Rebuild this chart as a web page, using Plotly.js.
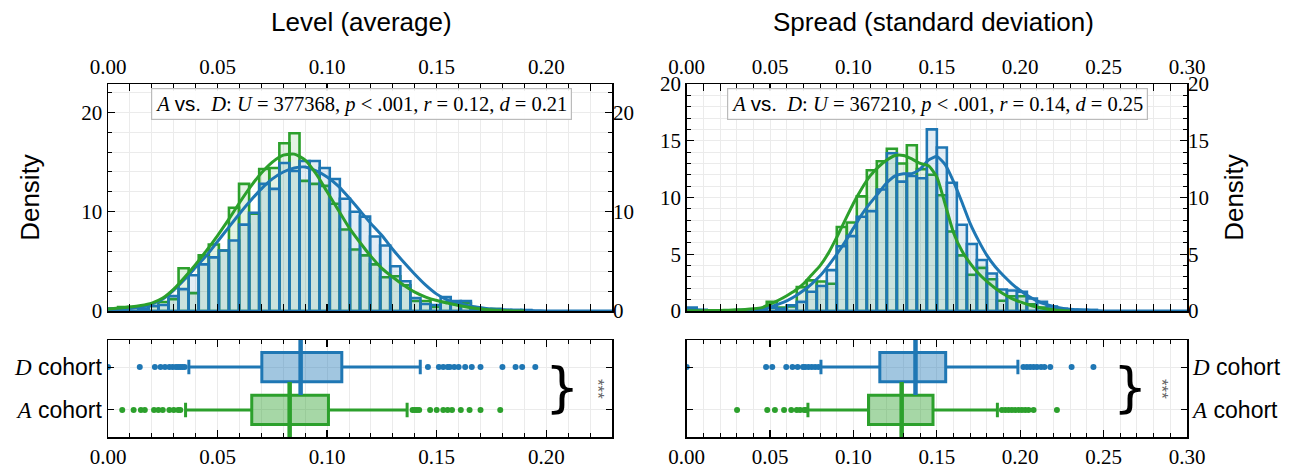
<!DOCTYPE html>
<html>
<head>
<meta charset="utf-8">
<script src="https://cdn.plot.ly/plotly-3.0.1.min.js"></script>
<style>html,body{margin:0;padding:0;background:#fff;}#chart{width:1303px;height:469px;}</style>
</head>
<body>
<div id="chart"></div>
<script>
// ---------------- DATA ----------------
// Level (average) histograms: common bins starting at 0
const levelBinStart = 0;
const levelBinWidth = 0.0046;
const levelHistD = [0.25,0,0,0.25,0.5,0.6,1.5,2.2,3.6,4.7,5.4,6.1,7.1,8.7,9.9,12.8,12.3,14.9,14.1,15.1,15.1,14.4,13.3,11.3,10.0,9.5,7.5,6.6,4.5,3.0,1.3,0.7,0.6,1.4,1.0,1.0,0.1,0.1,0.2,0.1,0.1,0.1];
const levelHistA = [0.2,0.4,0.4,0.2,0.5,0.9,1.2,4.3,1.8,5.6,6.7,6.1,10.4,12.8,9.8,14.3,14.4,16.9,17.9,13.1,12.8,12.6,10.8,8.2,6.2,5.6,4.7,3.4,3.5,2.6,1.0,1.0,0.4,0.9,0.8,0.8,0.2,0.1,0.2,0,0,0];
// Level KDE curves
const levelKdeX = [0,0.005,0.01,0.015,0.02,0.025,0.03,0.035,0.04,0.045,0.05,0.055,0.06,0.065,0.07,0.075,0.08,0.085,0.09,0.095,0.1,0.105,0.11,0.115,0.12,0.125,0.13,0.135,0.14,0.145,0.15,0.155,0.16,0.165,0.17,0.175,0.18,0.185,0.19,0.195,0.2,0.205,0.21,0.215,0.22,0.225,0.23];
const levelKdeD = [0.15,0.2,0.25,0.4,0.7,1.2,2.1,3.2,4.4,5.6,7.0,8.4,9.8,11.1,12.3,13.3,14.0,14.4,14.5,14.1,13.5,12.6,11.4,10.1,8.8,7.6,6.2,4.9,3.7,2.6,1.7,1.1,0.75,0.5,0.35,0.2,0.12,0.08,0.05,0.03,0.01,0,0,0,0,0,0];
const levelKdeA = [0.2,0.3,0.4,0.55,0.8,1.3,2.2,3.4,4.7,6.1,7.6,9.2,10.9,12.5,13.9,15.0,15.7,15.8,15.2,13.8,12.0,10.2,8.4,6.9,5.5,4.3,3.4,2.6,1.9,1.4,1.05,0.8,0.55,0.35,0.2,0.1,0.04,0.01,0];

// Spread (standard deviation) histograms
const spreadBinStart = 0;
const spreadBinWidth = 0.006;
const spreadHistD = [0.3,0.1,0,0,0,0,0,0.1,0.3,0.2,0.5,0.8,1.7,2.2,3.6,5.7,6.6,8.3,8.8,10.7,13.9,11.4,11.9,11.7,16.0,14.4,11.3,7.6,5.9,4.5,3.3,1.9,1.8,1.7,1.1,0.8,0.4,0.2,0.1,0.1,0.1];
const spreadHistA = [0,0,0,0,0,0,0,0.1,0.8,0.3,0.4,2.1,2.7,2.6,2.4,7.4,7.8,10.1,12.4,13.2,14.3,13.0,14.6,12.5,12.0,10.2,7.0,4.9,3.2,3.8,2.8,0.9,1.3,1.3,0.6,0.3,0.2,0.1,0,0,0];
const spreadKdeX = [0,0.005,0.01,0.015,0.02,0.025,0.03,0.035,0.04,0.045,0.05,0.055,0.06,0.065,0.07,0.075,0.08,0.085,0.09,0.095,0.1,0.105,0.11,0.115,0.12,0.125,0.13,0.135,0.14,0.145,0.15,0.155,0.16,0.165,0.17,0.175,0.18,0.185,0.19,0.195,0.2,0.205,0.21,0.215,0.22,0.225,0.23,0.235,0.24,0.245,0.25,0.255,0.26,0.265,0.27,0.275,0.28,0.285,0.29,0.295,0.3];
const spreadKdeD = [0.12,0.08,0.05,0.04,0.04,0.05,0.06,0.08,0.13,0.22,0.35,0.6,0.9,1.3,1.8,2.4,3.1,4.0,5.0,6.1,7.3,8.5,9.5,10.4,11.3,11.9,12.1,12.1,12.5,13.3,13.6,12.9,11.4,9.6,7.7,6.2,4.9,3.9,3.1,2.4,1.8,1.3,0.9,0.6,0.4,0.25,0.15,0.1,0.06,0.03,0.01,0,0,0,0,0,0,0,0,0,0];
const spreadKdeA = [0.02,0.02,0.03,0.04,0.05,0.07,0.1,0.14,0.2,0.3,0.6,0.95,1.35,1.8,2.4,3.2,4.0,5.1,6.5,8.0,9.5,10.8,11.9,12.7,13.3,13.7,13.7,13.4,13.0,12.8,11.8,9.4,6.9,5.3,4.2,3.3,2.6,2.0,1.5,1.1,0.8,0.55,0.35,0.2,0.1,0.04,0];

// Box-plot statistics  [A cohort, D cohort]
const cohortLabels = ['<span style="font-family:Liberation Serif"><i>A</i></span> cohort', '<span style="font-family:Liberation Serif"><i>D</i></span> cohort'];
const levelBoxD = {q1: 0.0702, median: 0.0879, q3: 0.1067, lower: 0.0369, upper: 0.1425};
const levelBoxA = {q1: 0.0656, median: 0.0829, q3: 0.1006, lower: 0.0354, upper: 0.1365};
const levelOutD = [0.0,0.0145,0.0214,0.024,0.026,0.028,0.0295,0.031,0.032,0.033,0.034,0.035,0.146,0.151,0.153,0.155,0.156,0.158,0.160,0.163,0.166,0.170,0.180,0.186,0.189,0.195];
const levelOutA = [0.0065,0.0117,0.015,0.0168,0.021,0.023,0.025,0.028,0.030,0.032,0.033,0.139,0.140,0.141,0.142,0.147,0.150,0.153,0.155,0.157,0.161,0.165,0.170,0.179];
const spreadBoxD = {q1: 0.1158, median: 0.1372, q3: 0.1553, lower: 0.0805, upper: 0.1986};
const spreadBoxA = {q1: 0.1090, median: 0.1289, q3: 0.1477, lower: 0.0727, upper: 0.1863};
const spreadOutD = [0.0,0.0476,0.0513,0.0597,0.0634,0.0665,0.0697,0.071,0.073,0.075,0.077,0.079,0.2019,0.204,0.206,0.208,0.21,0.2125,0.2145,0.218,0.2308,0.2439];
const spreadOutA = [0.0302,0.0483,0.0529,0.0584,0.0627,0.066,0.068,0.0705,0.0715,0.189,0.191,0.193,0.195,0.197,0.199,0.201,0.203,0.205,0.208,0.222];

const statLevel = '<i>A</i> <span style="font-family:Liberation Sans">vs.</span>  <i>D</i>: <i>U</i> = 377368, <i>p</i> &lt; .001, <i>r</i> = 0.12, <i>d</i> = 0.21';
const statSpread = '<i>A</i> <span style="font-family:Liberation Sans">vs.</span>  <i>D</i>: <i>U</i> = 367210, <i>p</i> &lt; .001, <i>r</i> = 0.14, <i>d</i> = 0.25';

// ---------------- STYLE ----------------
const BLUE = '#1f77b4', GREEN = '#2ca02c';
const BLUE_FILL = 'rgba(31,119,180,0.13)', GREEN_FILL = 'rgba(44,160,44,0.13)';
const BLUE_BOX = 'rgba(31,119,180,0.42)', GREEN_BOX = 'rgba(44,160,44,0.42)';
const SERIF = 'Liberation Serif', SANS = 'Liberation Sans';
const GRID = '#ebebeb';
const W = 1303, H = 469;
const px = x => x / W, py = y => 1 - y / H;

function centers(start, width, n) { const c = []; for (let i = 0; i < n; i++) c.push(start + (i + 0.5) * width); return c; }

function histTrace(vals, start, width, fill, edge, xa, ya) {
  return {type: 'bar', x: centers(start, width, vals.length), y: vals, width: width,
    marker: {color: fill, line: {color: edge, width: 2.6}}, xaxis: xa, yaxis: ya, hoverinfo: 'skip', showlegend: false};
}
function kdeTrace(x, y, color, xa, ya) {
  return {type: 'scatter', mode: 'lines', x: x.slice(0, y.length), y: y, line: {color: color, width: 3, shape: 'spline', smoothing: 0.6},
    xaxis: xa, yaxis: ya, hoverinfo: 'skip', showlegend: false};
}
function boxTrace(s, pos, color, fill, xa, ya) {
  return {type: 'box', orientation: 'h', y: [pos], q1: [s.q1], median: [s.median], q3: [s.q3], lowerfence: [s.lower], upperfence: [s.upper],
    width: 0.68, whiskerwidth: 0.5, fillcolor: fill, line: {color: color, width: 3}, boxpoints: false,
    xaxis: xa, yaxis: ya, hoverinfo: 'skip', showlegend: false};
}
function medianTrace(s, pos, color, xa, ya) {
  return {type: 'scatter', mode: 'markers', x: [s.median], y: [pos], marker: {symbol: 'line-ns', size: 40, line: {color: color, width: 4.5}},
    xaxis: xa, yaxis: ya, hoverinfo: 'skip', showlegend: false};
}
function outTrace(vals, pos, color, xa, ya) {
  return {type: 'scatter', mode: 'markers', x: vals, y: vals.map(() => pos), marker: {color: color, size: 6},
    xaxis: xa, yaxis: ya, hoverinfo: 'skip', showlegend: false};
}

const data = [
  histTrace(levelHistA, levelBinStart, levelBinWidth, GREEN_FILL, GREEN, 'x', 'y'),
  histTrace(levelHistD, levelBinStart, levelBinWidth, BLUE_FILL, BLUE, 'x', 'y'),
  kdeTrace(levelKdeX, levelKdeD, BLUE, 'x', 'y2'),
  kdeTrace(levelKdeX, levelKdeA, GREEN, 'x', 'y2'),
  boxTrace(levelBoxD, 1, BLUE, BLUE_BOX, 'x3', 'y3'),
  boxTrace(levelBoxA, 0, GREEN, GREEN_BOX, 'x3', 'y3'),
  medianTrace(levelBoxD, 1, BLUE, 'x3', 'y3'),
  medianTrace(levelBoxA, 0, GREEN, 'x3', 'y3'),
  outTrace(levelOutD, 1, BLUE, 'x3', 'y3'),
  outTrace(levelOutA, 0, GREEN, 'x3', 'y3'),

  histTrace(spreadHistA, spreadBinStart, spreadBinWidth, GREEN_FILL, GREEN, 'x4', 'y4'),
  histTrace(spreadHistD, spreadBinStart, spreadBinWidth, BLUE_FILL, BLUE, 'x4', 'y4'),
  kdeTrace(spreadKdeX, spreadKdeD, BLUE, 'x4', 'y5'),
  kdeTrace(spreadKdeX, spreadKdeA, GREEN, 'x4', 'y5'),
  boxTrace(spreadBoxD, 1, BLUE, BLUE_BOX, 'x6', 'y6'),
  boxTrace(spreadBoxA, 0, GREEN, GREEN_BOX, 'x6', 'y6'),
  medianTrace(spreadBoxD, 1, BLUE, 'x6', 'y6'),
  medianTrace(spreadBoxA, 0, GREEN, 'x6', 'y6'),
  outTrace(spreadOutD, 1, BLUE, 'x6', 'y6'),
  outTrace(spreadOutA, 0, GREEN, 'x6', 'y6')
];

const tickFont = {family: SERIF, size: 21, color: '#000'};
function xAxis(domain, range, side, anchor, showLabels) {
  return {domain: domain, range: range, side: side, anchor: anchor, tick0: 0, dtick: 0.05, tickformat: '.2f',
    showticklabels: showLabels, ticks: 'inside', ticklen: 7, tickwidth: 1.3, tickcolor: '#000',
    showline: true, linecolor: '#000', linewidth: 1.5, mirror: 'allticks', zeroline: false,
    showgrid: true, gridcolor: GRID, gridwidth: 1, tickfont: tickFont,
    minor: {dtick: 0.01, ticks: 'inside', ticklen: 4, tickwidth: 1, tickcolor: '#000', showgrid: true, gridcolor: GRID, gridwidth: 1}};
}
function yHist(domain, range, dtick, minor, anchor, side, title, standoff) {
  return {domain: domain, range: range, anchor: anchor, side: side, tick0: 0, dtick: dtick,
    ticks: 'inside', ticklen: 7, tickwidth: 1.3, tickcolor: '#000', showline: true, linecolor: '#000', linewidth: 1.5,
    mirror: 'allticks', zeroline: false, showgrid: true, gridcolor: GRID, tickfont: tickFont,
    title: title ? {text: title, font: {family: SANS, size: 26, color: '#000'}, standoff: standoff} : undefined,
    minor: {dtick: minor, ticks: 'inside', ticklen: 4, tickwidth: 1, tickcolor: '#000', showgrid: true, gridcolor: GRID}};
}
function yTwin(over, range, dtick, anchor, side, title, standoff) {
  return {overlaying: over, matches: over, range: range, anchor: anchor, side: side, tick0: 0, dtick: dtick,
    ticks: '', showline: false, showgrid: false, zeroline: false, tickfont: tickFont,
    title: title ? {text: title, font: {family: SANS, size: 26, color: '#000'}, standoff: standoff} : undefined};
}
function yBox(domain, anchor, side) {
  return {domain: domain, range: [-0.63, 1.63], anchor: anchor, side: side, tickvals: [0, 1], ticktext: cohortLabels,
    ticks: 'inside', ticklen: 6, tickcolor: '#000', showline: true, linecolor: '#000', linewidth: 1.5, mirror: 'allticks',
    zeroline: false, showgrid: true, gridcolor: GRID, tickfont: {family: SANS, size: 23, color: '#000'}};
}

const histDom = [py(311), py(84)];
const boxDom = [py(437), py(340)];
const leftDom = [px(108), px(612)];
const rightDom = [px(686.7), px(1187)];

function ann(text, x, y, font, extra) {
  return Object.assign({text: text, x: px(x), y: py(y), xref: 'paper', yref: 'paper', xanchor: 'center', yanchor: 'middle', showarrow: false, font: font}, extra || {});
}

const layout = {
  width: W, height: H, margin: {l: 0, r: 0, t: 0, b: 0}, paper_bgcolor: '#fff', plot_bgcolor: '#fff',
  barmode: 'overlay', bargap: 0, showlegend: false,
  xaxis: xAxis(leftDom, [0, 0.23], 'top', 'y', true),
  yaxis: yHist(histDom, [0, 22.86], 10, 2, 'x', 'left', 'Density', 34),
  yaxis2: yTwin('y', [0, 22.86], 10, 'x', 'right', null, 0),
  xaxis3: xAxis(leftDom, [0, 0.23], 'bottom', 'y3', true),
  yaxis3: yBox(boxDom, 'x3', 'left'),
  xaxis4: xAxis(rightDom, [0, 0.30], 'top', 'y4', true),
  yaxis4: yHist(histDom, [0, 20], 5, 1, 'x4', 'left', null, 0),
  yaxis5: yTwin('y4', [0, 20], 5, 'x4', 'right', 'Density', 16),
  xaxis6: xAxis(rightDom, [0, 0.30], 'bottom', 'y6', true),
  yaxis6: yBox(boxDom, 'x6', 'right'),
  annotations: [
    ann('Level (average)', 361, 22, {family: SANS, size: 26, color: '#000'}),
    ann('Spread (standard deviation)', 933, 22, {family: SANS, size: 26, color: '#000'}),
    ann(statLevel, 361, 104, {family: SERIF, size: 20.5, color: '#000'}, {bgcolor: 'rgba(255,255,255,0.92)', bordercolor: '#bbbbbb', borderwidth: 1.2, borderpad: 3}),
    ann(statSpread, 937, 104, {family: SERIF, size: 20.5, color: '#000'}, {bgcolor: 'rgba(255,255,255,0.92)', bordercolor: '#bbbbbb', borderwidth: 1.2, borderpad: 3}),
    ann('}', 562, 387, {family: 'DejaVu Sans', size: 54, color: '#000'}),
    ann('***', 598, 389, {family: SANS, size: 17, color: '#666'}, {textangle: 90}),
    ann('}', 1130, 387, {family: 'DejaVu Sans', size: 54, color: '#000'}),
    ann('***', 1162, 389, {family: SANS, size: 17, color: '#666'}, {textangle: 90})
  ]
};

Plotly.newPlot('chart', data, layout, {staticPlot: true, displayModeBar: false});
</script>
</body>
</html>
